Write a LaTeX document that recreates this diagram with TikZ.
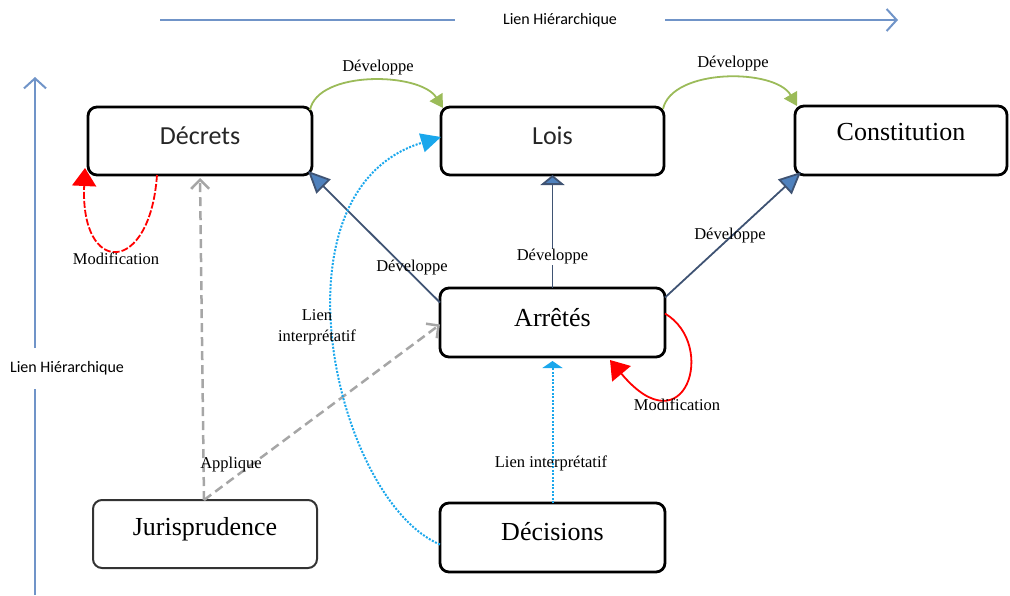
\documentclass[tikz,border=0pt]{standalone}
\usepackage{fontspec}
\setmainfont{Liberation Serif}
\newfontfamily\calibri{Carlito}
\usetikzlibrary{arrows.meta}
\definecolor{hiercol}{HTML}{7094C8}
\definecolor{greencol}{HTML}{9BBB59}
\definecolor{devcol}{HTML}{3F5373}
\definecolor{bluefill}{HTML}{4F81BD}
\definecolor{cyancol}{HTML}{1AA7EC}
\definecolor{greycol}{HTML}{A6A6A6}
\definecolor{redcol}{HTML}{FF0000}
\definecolor{boxtext}{HTML}{262626}
\begin{document}
\begin{tikzpicture}[x=1pt,y=-1pt,
  box/.style={draw, line width=2.8pt, rounded corners=9pt, inner sep=0pt, outer sep=0pt,
    minimum height=#1, text height=37pt, text depth=31pt, font=\fontsize{26}{30}\selectfont},
  box/.default=68pt,
  lbl/.style={inner sep=1pt, font=\fontsize{16.5}{21}\selectfont},
  hier/.style={draw=hiercol, line width=2pt},
  greenarc/.style={draw=greencol, line width=1.8pt, -{Triangle[length=13pt,width=15pt,fill=greencol]}},
  devline/.style={draw=devcol, line width=1.8pt, -{Triangle[length=22pt,width=20pt,fill=bluefill]}},
  redloop/.style={draw=redcol, line width=1.8pt, -{Triangle[length=18pt,width=24pt,fill=redcol]}},
  greydash/.style={draw=greycol, line width=2.5pt, dash pattern=on 9pt off 5pt, -{Straight Barb[length=9pt,width=18pt]}},
  cyandot/.style={draw=cyancol, line width=2pt, dash pattern=on 2pt off 1.5pt}
]
\useasboundingbox (0,0) rectangle (1010,595);

% axes
\node[font=\calibri\fontsize{16}{18}\selectfont, inner sep=0pt] (htop) at (560,20) {Lien Hiérarchique};
\coordinate (ht1) at (160,20); \coordinate (ht2) at (455,20);
\coordinate (ht3) at (665,20); \coordinate (ht4) at (898,20);
\draw[hier] (ht1) -- (ht2);
\draw[hier, -{Straight Barb[length=10pt,width=22pt]}] (ht3) -- (ht4);
\node[font=\calibri\fontsize{16}{18}\selectfont, inner sep=0pt] (hleft) at (67,368) {Lien Hiérarchique};
\coordinate (hl1) at (35,595); \coordinate (hl2) at (35,389);
\coordinate (hl3) at (35,348); \coordinate (hl4) at (35,77);
\draw[hier] (hl1) -- (hl2);
\draw[hier, -{Straight Barb[length=10pt,width=22pt]}] (hl3) -- (hl4);

% boxes
\node[box, minimum width=224pt, text=boxtext, font=\calibri\fontsize{26}{30}\selectfont] (decrets) at (200,141) {Décrets};
\node[box, minimum width=223pt, text=boxtext, font=\calibri\fontsize{26}{30}\selectfont] (lois) at (552.5,141) {Lois};
\node[box=69pt, minimum width=212pt, text height=34pt, text depth=35pt] (constitution) at (901,140.5) {Constitution};
\node[box=69pt, minimum width=225pt, text height=38.5pt, text depth=30.5pt] (arretes) at (552.5,322.5) {Arrêtés};
\node[box, minimum width=224pt, line width=2pt, draw=black!80, text height=35.5pt, text depth=32.5pt] (juris) at (205,534) {Jurisprudence};
\node[box=69pt, minimum width=225pt, text height=37.5pt, text depth=31.5pt] (decisions) at (552.5,537.5) {Décisions};

% green arcs
\draw[greenarc] ([xshift=-2pt,yshift=-3pt]decrets.north east) .. controls (318,70) and (420,72) .. ([xshift=2pt,yshift=-1pt]lois.north west);
\draw[greenarc] ([xshift=-1pt,yshift=-2pt]lois.north east) .. controls (672,68) and (775,68) .. ([xshift=2pt]constitution.north west);
\node[lbl] (g1) at (378,68) {Développe};
\node[lbl] (g2) at (733,64) {Développe};

% develop lines
\draw[devline] ([yshift=20pt]arretes.west) -- ([xshift=-4pt,yshift=4pt]decrets.south east);
\draw[devline, -{Triangle[length=10pt,width=24pt,fill=bluefill]}] (arretes.north) -- (lois.south);
\draw[devline] ([yshift=25pt]arretes.east) -- ([xshift=6pt,yshift=3pt]constitution.south west);
\node[lbl] (d1) at (412,268) {Développe};
\node[lbl, fill=white] (d2) at (552.5,257) {Développe};
\node[lbl] (d3) at (730,236) {Développe};

% modification loops
\draw[redloop, dash pattern=on 7pt off 2pt] ([xshift=-43pt]decrets.south) .. controls (150,276) and (80,276) .. ([xshift=-3pt,yshift=7pt]decrets.south west);
\draw[redloop] ([yshift=9pt]arretes.east) .. controls (718,345) and (685,450) .. ([xshift=-55pt,yshift=-3pt]arretes.south east);
\node[lbl] (m1) at (116,259) {Modification};
\node[lbl] (m2) at (677,405) {Modification};

% applique
\draw[greydash] ([xshift=-1pt]juris.north) -- ([yshift=-3pt]decrets.south);
\draw[greydash] ([xshift=-1pt]juris.north) -- ([yshift=-2pt]arretes.west);
\node[lbl] (ap) at (231,465) {Applique};

% interpretative links
\draw[cyandot, -{Triangle[length=7pt,width=20pt,fill=cyancol]}] (decisions.north) -- ([yshift=-4pt]arretes.south);
\draw[cyandot, -{Triangle[length=20pt,width=19pt,fill=cyancol]}] ([yshift=-7pt]decisions.west) .. controls (335,500) and (265,190) .. ([yshift=4pt]lois.west);
\node[lbl] (li1) at (551,463) {Lien interprétatif};
\node[lbl, align=center] (li2) at (317,327) {Lien\\interprétatif};
\end{tikzpicture}
\end{document}
